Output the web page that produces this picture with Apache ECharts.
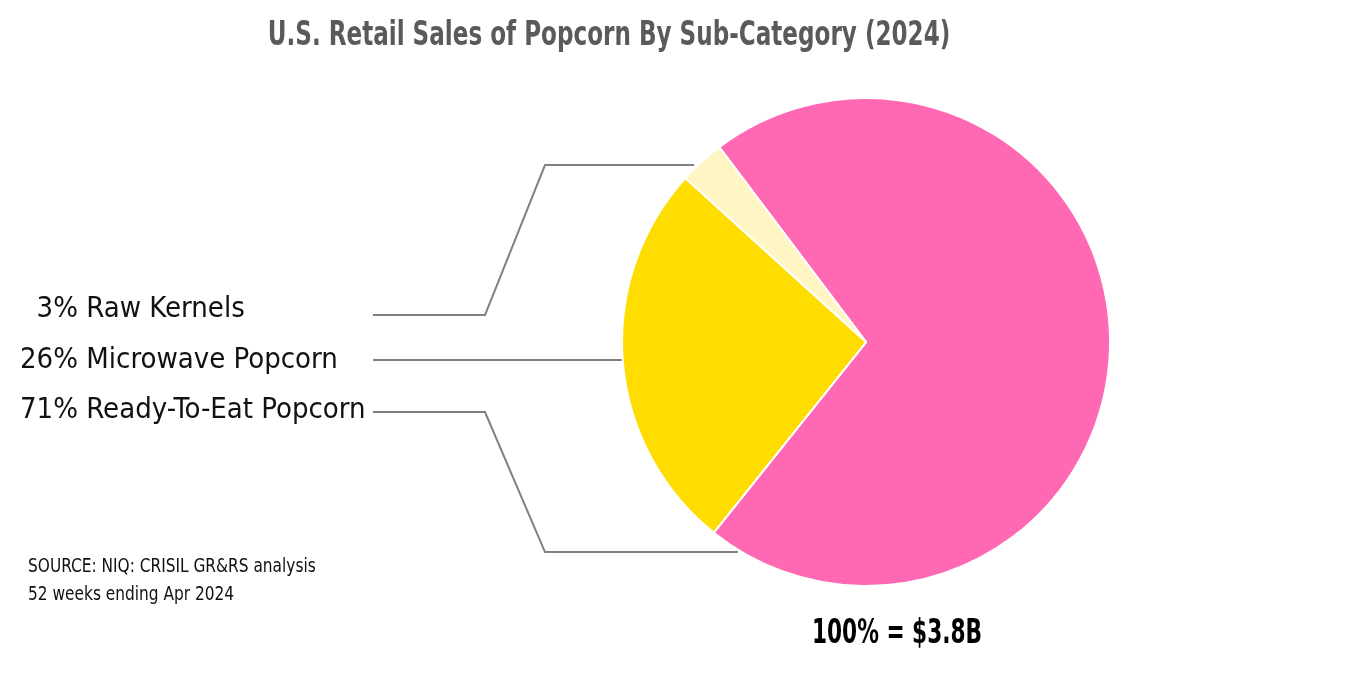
<!DOCTYPE html>
<html>
<head>
<meta charset="utf-8">
<script src="https://cdn.jsdelivr.net/npm/echarts@6/dist/echarts.min.js"></script>
<style>
html,body{margin:0;padding:0;background:#fff;}
#main{width:1360px;height:675px;}
</style>
</head>
<body>
<div id="main"></div>
<script>
// ---- data ----
var categories = ['Ready-To-Eat Popcorn', 'Microwave Popcorn', 'Raw Kernels'];
var shares = [71, 26, 3];
var colors = ['#FF69B4', '#FFDD00', '#FFF6C4'];
var titleText = 'U.S. Retail Sales of Popcorn By Sub-Category (2024)';
var totalText = '100% = $3.8B';
var sourceLines = ['SOURCE: NIQ: CRISIL GR&RS analysis', '52 weeks ending Apr 2024'];

var FONT = '"Liberation Sans Narrow", "DejaVu Sans Condensed", "Roboto Condensed", Roboto, sans-serif';

var chart = echarts.init(document.getElementById('main'), null, {renderer: 'canvas'});

// label placement (layout only)
var labelY = [410, 360, 309];
var lineY = [412, 360, 315];
var pointerOffsetDeg = [-8, null, -6.5]; // offset from slice end; null = mid angle

var seriesData = categories.map(function (c, i) {
  return { name: c, value: shares[i], itemStyle: { color: colors[i] } };
});

function pad(v) {
  var s = String(v);
  return s.length < 2 ? '\u2007' + s : s;
}

var option = {
  animation: false,
  backgroundColor: '#ffffff',
  graphic: [
    { type: 'text', x: 609, y: 19, scaleX: 0.755, style: { text: titleText, textAlign: 'center', textVerticalAlign: 'top', font: 'bold 34px ' + FONT, fill: '#5a5a5a' }, z: 10 },
    { type: 'text', x: 28, y: 553, scaleX: 0.9, style: { text: sourceLines.join('\n'), textVerticalAlign: 'top', font: '19px ' + FONT, fill: '#111', lineHeight: 28 } },
    { type: 'text', x: 897, y: 618, scaleX: 0.73, style: { text: totalText, textAlign: 'center', textVerticalAlign: 'top', font: 'bold 33px ' + FONT, fill: '#000' } }
  ],
  series: [{
    type: 'pie',
    center: ['63.68%', '50.67%'],
    radius: [0, 244],
    startAngle: 127,
    clockwise: true,
    avoidLabelOverlap: false,
    itemStyle: { borderColor: '#ffffff', borderWidth: 2 },
    label: {
      show: true,
      position: 'outer',
      alignTo: 'none',
      formatter: function (p) { return pad(p.value) + '% ' + p.name; },
      fontFamily: FONT,
      fontSize: 29,
      color: '#111'
    },
    labelLine: { show: true, smooth: false, length: 10, length2: 10, lineStyle: { color: '#808080', width: 2 } },
    emphasis: { disabled: true },
    labelLayout: function (p) {
      var i = p.dataIndex;
      var lay = chart.getModel().getSeriesByIndex(0).getData().getItemLayout(i);
      var a;
      if (pointerOffsetDeg[i] == null) {
        a = (lay.startAngle + lay.endAngle) / 2;
      } else {
        a = lay.endAngle + pointerOffsetDeg[i] * Math.PI / 180;
      }
      var ly = lineY[i];
      var pts;
      var ey = lay.cy + lay.r * Math.sin(a);
      if (Math.abs(ey - ly) < 12) {
        var ex0 = lay.cx - Math.sqrt(lay.r * lay.r - (ly - lay.cy) * (ly - lay.cy)) + 3;
        pts = [[373, ly], [ex0, ly]];
      } else {
        var ex = lay.cx + lay.r * Math.cos(a) - 4;
        pts = [[373, ly], [485, ly], [545, ey], [ex, ey]];
      }
      return {
        x: 20,
        y: labelY[i],
        align: 'left',
        verticalAlign: 'middle',
        labelLinePoints: pts
      };
    },
    data: seriesData
  }]
};
chart.setOption(option);
</script>
</body>
</html>
